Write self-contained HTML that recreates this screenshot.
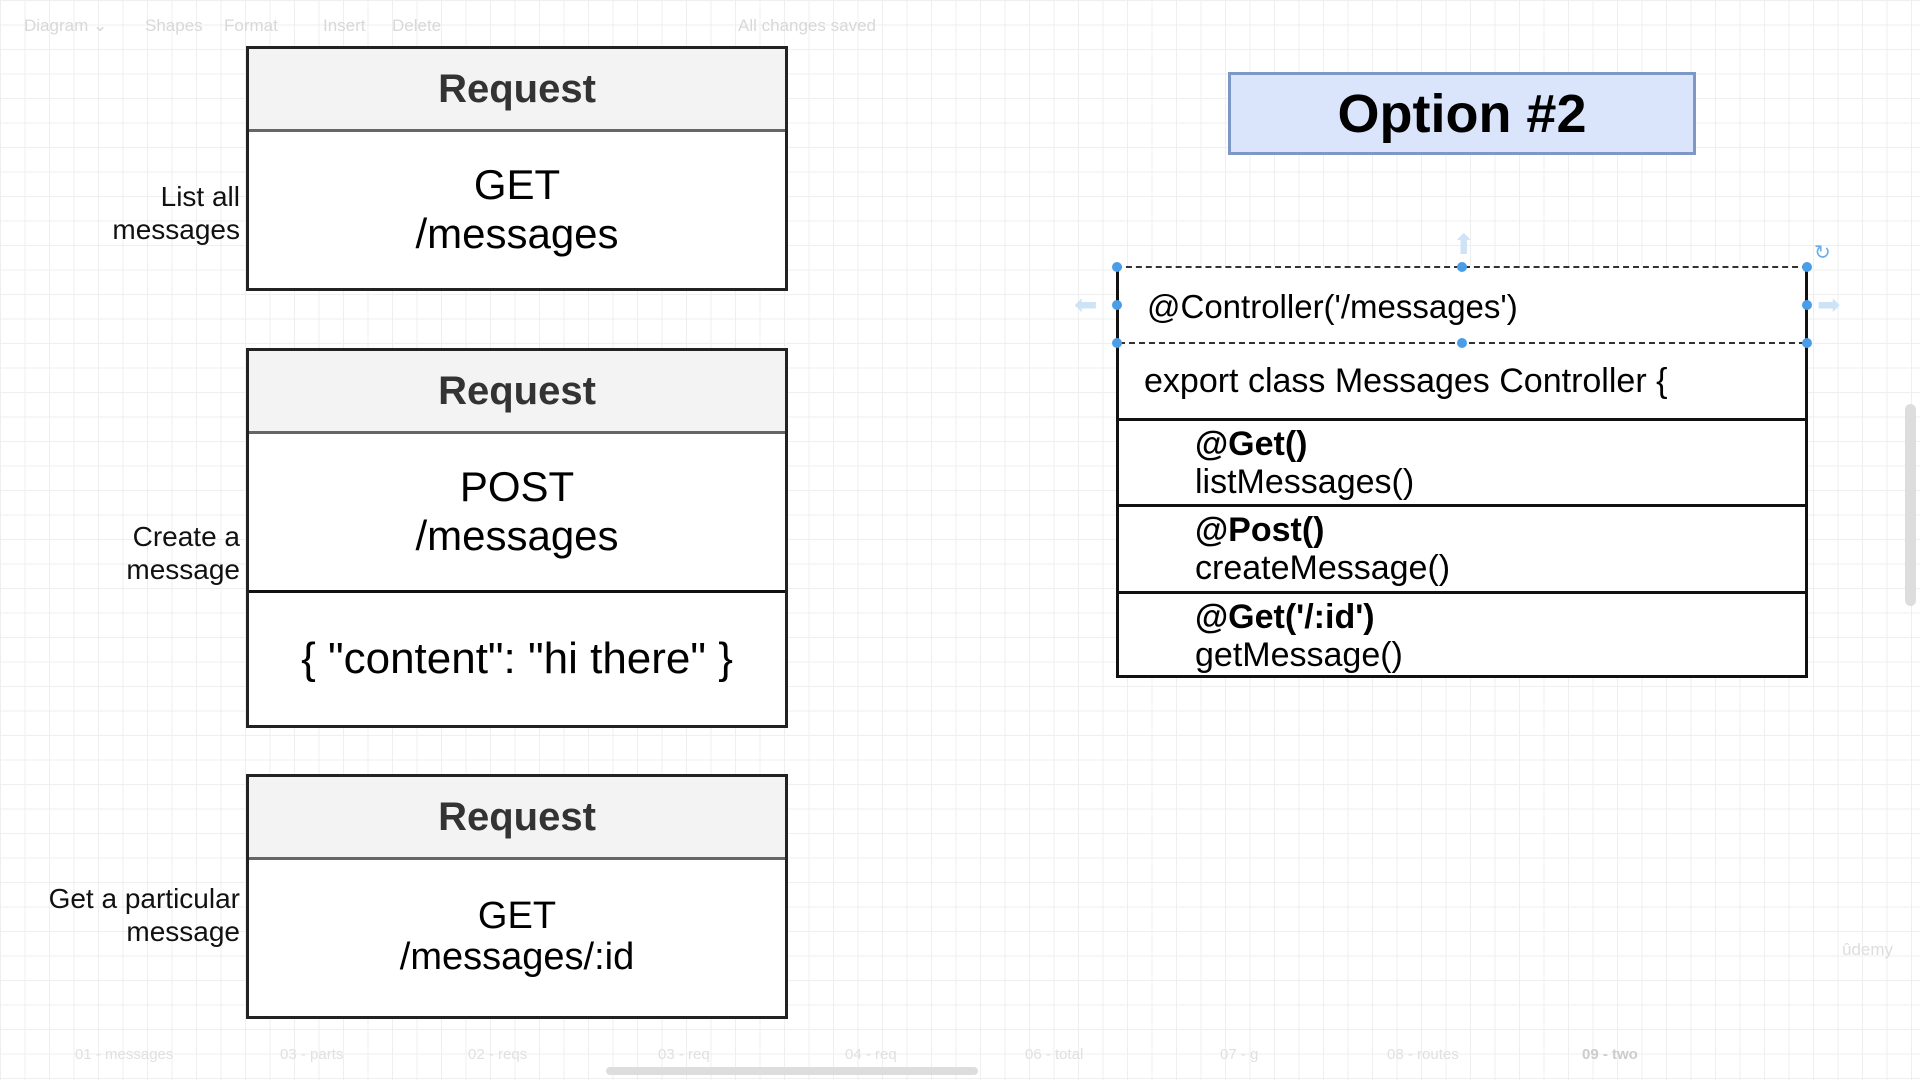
<!DOCTYPE html>
<html><head><style>
body{margin:0;width:1920px;height:1080px;overflow:hidden;background:#fff;
background-image:linear-gradient(#efefef 1px,transparent 1px),linear-gradient(90deg,#efefef 1px,transparent 1px);background-size:24.5px 24.5px;
font-family:"Liberation Sans",sans-serif;position:relative}
.a{position:absolute;box-sizing:border-box}
.req{border:3px solid #222;background:#fff}
.hd{position:absolute;left:0;right:0;top:0;background:#f3f3f3;border-bottom:3px solid #666;font-weight:bold;font-size:40px;color:#333;display:flex;align-items:center;justify-content:center}
.c{display:flex;align-items:center;justify-content:center;text-align:center}
.lab{position:absolute;text-align:right;font-size:28px;line-height:33px;color:#111}
.tb{position:absolute;top:16px;font-size:17px;color:#d8d8d8}
.row{position:absolute;left:0;right:0;border-top:3px solid #111;font-size:34px;line-height:38px;padding-left:76px}
.dot{position:absolute;width:10px;height:10px;border-radius:50%;background:#4a9ee8}
</style></head><body>
<div class="tb" style="left:24px">Diagram ⌄</div><div class="tb" style="left:145px">Shapes</div><div class="tb" style="left:224px">Format</div>
<div class="tb" style="left:323px">Insert</div><div class="tb" style="left:392px">Delete</div><div class="tb" style="left:738px">All changes saved</div>

<div class="a req" style="left:246px;top:46px;width:542px;height:245px">
<div class="hd" style="height:80px">Request</div>
<div class="a c" style="left:0;right:0;top:80px;bottom:0;font-size:42px;line-height:49px">GET<br>/messages</div></div>
<div class="lab" style="right:1680px;top:180px">List all<br>messages</div>

<div class="a req" style="left:246px;top:348px;width:542px;height:380px">
<div class="hd" style="height:80px">Request</div>
<div class="a c" style="left:0;right:0;top:80px;height:162px;font-size:42px;line-height:49px;border-bottom:3px solid #111">POST<br>/messages</div>
<div class="a c" style="left:0;right:0;top:242px;bottom:0;font-size:44px">{ "content": "hi there" }</div></div>
<div class="lab" style="right:1680px;top:520px">Create a<br>message</div>

<div class="a req" style="left:246px;top:774px;width:542px;height:245px">
<div class="hd" style="height:80px">Request</div>
<div class="a c" style="left:0;right:0;top:80px;bottom:0;font-size:38px;line-height:41px">GET<br>/messages/:id</div></div>
<div class="lab" style="right:1680px;top:882px">Get a particular<br>message</div>

<div class="a c" style="left:1228px;top:72px;width:468px;height:83px;background:#dae4fb;border:3px solid #7e98c6;font-weight:bold;font-size:54px">Option #2</div>

<div class="a" style="left:1116px;top:266px;width:692px;height:412px;border:3px solid #111;border-top:2px dashed #333;background:#fff">
<div class="a" style="left:28px;top:20px;font-size:33px">@Controller('/messages')</div>
<div class="row" style="top:74px;height:76px;padding-left:25px;border-top:2px dashed #333;padding-top:18px">export class Messages Controller {</div>
<div class="row" style="top:150px;height:86px;padding-top:4px"><b>@Get()</b><br>listMessages()</div>
<div class="row" style="top:236px;height:87px;padding-top:4px"><b>@Post()</b><br>createMessage()</div>
<div class="row" style="top:323px;height:87px;padding-top:4px"><b>@Get('/:id')</b><br>getMessage()</div>
</div>
<div class="dot" style="left:1112px;top:262px"></div><div class="dot" style="left:1457px;top:262px"></div><div class="dot" style="left:1802px;top:262px"></div>
<div class="dot" style="left:1112px;top:300px"></div><div class="dot" style="left:1802px;top:300px"></div>
<div class="dot" style="left:1112px;top:338px"></div><div class="dot" style="left:1457px;top:338px"></div><div class="dot" style="left:1802px;top:338px"></div>
<div class="a" style="left:1452px;top:228px;color:#cfe3f7;font-size:28px">⬆</div>
<div class="a" style="left:1074px;top:288px;color:#cfe3f7;font-size:28px">⬅</div>
<div class="a" style="left:1817px;top:288px;color:#cfe3f7;font-size:28px">➡</div>
<div class="a" style="left:1814px;top:240px;color:#6aaeea;font-size:20px">↻</div>

<div class="a" style="left:1905px;top:404px;width:11px;height:202px;border-radius:6px;background:#ddd"></div>
<div class="a" style="left:606px;top:1067px;width:372px;height:8px;border-radius:4px;background:#ddd"></div>
<div class="a" style="left:1842px;top:940px;color:#ddd;font-size:17px">ûdemy</div>
<div class="a" style="left:0;top:1046px;width:1920px;font-size:15px;color:#e0e0e0;word-spacing:0">
<span style="position:absolute;left:75px">01 - messages</span><span style="position:absolute;left:280px">03 - parts</span><span style="position:absolute;left:468px">02 - reqs</span><span style="position:absolute;left:658px">03 - req</span><span style="position:absolute;left:845px">04 - req</span><span style="position:absolute;left:1025px">06 - total</span><span style="position:absolute;left:1220px">07 - g</span><span style="position:absolute;left:1387px">08 - routes</span><span style="position:absolute;left:1582px;color:#ccc;font-weight:bold">09 - two</span></div>
</body></html>
